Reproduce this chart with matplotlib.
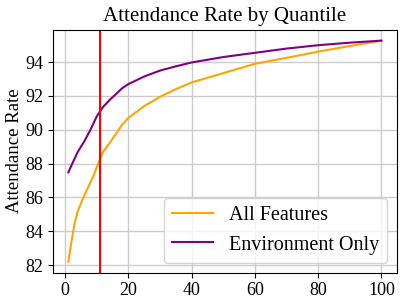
import matplotlib
matplotlib.use("Agg")
import matplotlib.pyplot as plt

plt.rcParams['font.family'] = ['Liberation Serif', 'DejaVu Serif']

quantile = [1, 2, 3, 4, 5, 6, 7, 8, 9, 10, 12, 14, 16, 18, 20, 25, 30, 35, 40, 50, 60, 70, 80, 90, 100]
all_features = [82.2, 83.4, 84.5, 85.2, 85.65, 86.1, 86.5, 86.9, 87.3, 87.8, 88.7, 89.2, 89.75, 90.3, 90.7,
                91.4, 91.95, 92.4, 92.8, 93.35, 93.9, 94.25, 94.62, 94.95, 95.27]
env_only = [87.48, 87.9, 88.3, 88.7, 89.0, 89.3, 89.65, 90.0, 90.4, 90.8, 91.35, 91.75, 92.1, 92.45, 92.7,
            93.15, 93.5, 93.75, 93.98, 94.3, 94.55, 94.8, 95.0, 95.15, 95.27]
cutoff = 11

fig = plt.figure(figsize=(4.07, 3.05), dpi=100)
ax = fig.add_axes([0.1295, 0.106, 0.846, 0.797])
ax.plot(quantile, all_features, color='orange', lw=1.5, label='All Features')
ax.plot(quantile, env_only, color='purple', lw=1.5, label='Environment Only')
ax.axvline(cutoff, color='red', lw=1.5)
ax.grid(True, color='#cccccc', lw=1)
ax.set_axisbelow(True)
ax.set_xticks([0, 20, 40, 60, 80, 100])
ax.set_yticks([82, 84, 86, 88, 90, 92, 94])
ax.tick_params(labelsize=13)
ax.set_ylabel('Attendance Rate', fontsize=13.5)
ax.yaxis.set_label_coords(-0.11, 0.5)
ax.yaxis.label.set_verticalalignment('center')
ax.set_title('Attendance Rate by Quantile', fontsize=15)
ax.legend(loc='lower right', fontsize=14.5)
fig.savefig('out.png', dpi=100)
